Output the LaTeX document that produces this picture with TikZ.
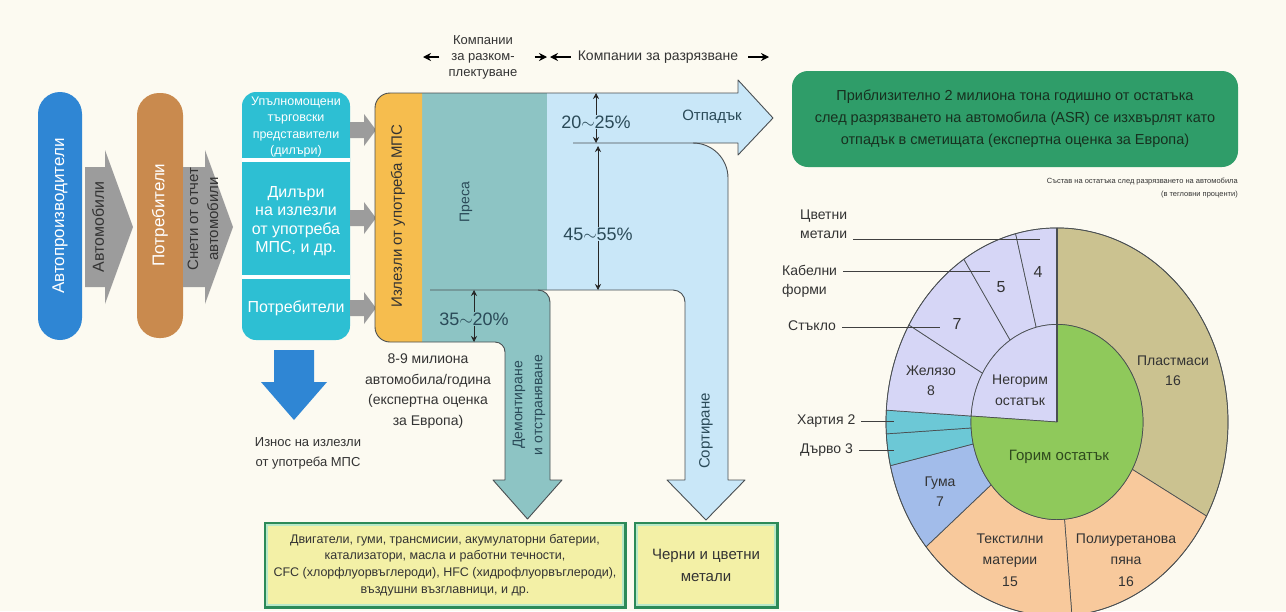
\documentclass[tikz,border=0pt]{standalone}
\usepackage{xcolor}
\usepackage{fontspec}
\setmainfont{Liberation Sans}
\usetikzlibrary{arrows.meta}

\definecolor{bgcream}{HTML}{FCFAF1}
\definecolor{makerblue}{HTML}{2F86D4}
\definecolor{userbrown}{HTML}{C98A4E}
\definecolor{flowgrey}{HTML}{9C9C9C}
\definecolor{dealercyan}{HTML}{2DBFD3}
\definecolor{elvamber}{HTML}{F6BD4E}
\definecolor{pressteal}{HTML}{8DC4C4}
\definecolor{shredblue}{HTML}{C9E7F8}
\definecolor{edgegrey}{HTML}{4A4F52}
\definecolor{pcttext}{HTML}{2A4A58}
\definecolor{inktext}{HTML}{333333}
\definecolor{asrgreen}{HTML}{2F9D69}
\definecolor{asrtext}{HTML}{17301F}
\definecolor{boxgreen}{HTML}{2C8A58}
\definecolor{boxmint}{HTML}{B8E8C8}
\definecolor{boxyellow}{HTML}{F3F0A6}
\definecolor{plastic}{HTML}{CBC290}
\definecolor{peach}{HTML}{F8C99C}
\definecolor{rubber}{HTML}{A2BCEA}
\definecolor{woodcyan}{HTML}{6CC8D6}
\definecolor{metallav}{HTML}{D6D6F6}
\definecolor{burngreen}{HTML}{8FC95B}
\definecolor{combtext}{HTML}{2F4A1E}

\begin{document}
\begin{tikzpicture}[x=1pt, y=-1pt,
  fs/.style 2 args={font=\fontsize{#1}{#2}\selectfont},
  lbl/.style={text=inktext, align=center, inner sep=0pt},
  vlbl/.style={lbl, rotate=90},
  rim/.style={draw=edgegrey, line width=0.9pt, line join=round},
  pctarrow/.style={draw=black!85, line width=0.7pt, -{Stealth[length=6pt, width=6pt]}},
  spanarrow/.style={draw=black, line width=1.1pt, -{Stealth[length=8pt, width=8pt]}},
  leader/.style={draw=black!75, line width=0.8pt},
  pct/.style={lbl, text=pcttext, fs={18}{20}},
  wedgeline/.style={draw=edgegrey, line width=0.7pt},
  itembox/.style={draw=boxgreen, line width=3pt, fill=boxyellow, minimum height=84pt, inner sep=0pt, align=center, text=inktext}]

  \useasboundingbox (0,0) rectangle (1286,611);
  \fill[bgcream] (0,0) rectangle (1286,611);

  % Makers, users and the grey flows
  \fill[makerblue, rounded corners=22pt] (38,92) rectangle (82,340);
  \node[vlbl, text=white, fs={17}{20}] (maker) at (60,216) {Автопроизводители};
  \fill[flowgrey] (85,167) -- (105,167) -- (105,150) -- (133,227) -- (105,304) -- (105,287) -- (85,287) -- cycle;
  \node[vlbl, fs={16}{19}] (cars) at (98,227) {Автомобили};
  \fill[userbrown, rounded corners=22pt] (137,93) rectangle (183,338);
  \node[vlbl, text=white, fs={17}{20}] (users) at (160,215) {Потребители};
  \fill[flowgrey] (183,167) -- (205,167) -- (205,150) -- (233,227) -- (205,304) -- (205,287) -- (183,287) -- cycle;
  \node[vlbl, fs={15}{20}] (dereg) at (203,219) {Снети от отчет\\автомобили};

  % Dealers box
  \fill[dealercyan, rounded corners=14pt] (242,92) rectangle (350,340);
  \draw[white, line width=4pt] (242,160) -- (350,160);
  \draw[white, line width=4pt] (242,277) -- (350,277);
  \node[lbl, text=white, fs={12.5}{16.5}] (authdealer) at (296,127) {Упълномощени\\търговски\\представители\\(дилъри)};
  \node[lbl, text=white, fs={16}{18.5}] (elvdealer) at (296,221) {Дилъри\\на излезли\\от употреба\\МПС, и др.};
  \node[lbl, text=white, fs={16}{18}] (lastusers) at (296,308) {Потребители};
  \foreach \y in {130,218,308}{
    \fill[flowgrey] (350,\y-8) -- (364,\y-8) -- (364,\y-16) -- (376,\y) -- (364,\y+16) -- (364,\y+8) -- (350,\y+8) -- cycle;
  }

  % Export
  \fill[makerblue] (274,350) -- (314,350) -- (314,382) -- (327,382) -- (294,420) -- (261,382) -- (274,382) -- cycle;
  \node[lbl, fs={13}{20}] (export) at (308,453) {Износ на излезли\\от употреба МПС};

  % Dismantling and shredding flows
  \fill[pressteal] (422,93) -- (547,93) -- (547,290) -- (538,290) arc[start angle=-90, end angle=0, radius=12]
    -- (550,480) -- (562,480) -- (527.5,519) -- (493,480) -- (505,480) -- (505,352)
    arc[start angle=0, end angle=-90, radius=10] -- (422,342) -- cycle;
  \fill[shredblue] (547,93) -- (738,93) -- (738,80) -- (773,118) -- (738,155) -- (738,143) -- (693,143)
    arc[start angle=-90, end angle=0, radius=35] -- (728,480) -- (745,480) -- (706,520) -- (667,480)
    -- (685,480) -- (685,302) arc[start angle=0, end angle=-90, radius=12] -- (547,290) -- cycle;
  \fill[elvamber] (422,93) -- (390,93) arc[start angle=-90, end angle=-180, radius=15] -- (375,327)
    arc[start angle=180, end angle=90, radius=15] -- (422,342) -- cycle;
  \draw[rim] (390,93) -- (738,93) -- (738,80) -- (773,118) -- (738,155) -- (738,143) -- (573,143);
  \draw[rim] (693,143) arc[start angle=-90, end angle=0, radius=35] -- (728,480) -- (745,480) -- (706,520)
    -- (667,480) -- (685,480) -- (685,302) arc[start angle=0, end angle=-90, radius=12] -- (430,290);
  \draw[rim] (538,290) arc[start angle=-90, end angle=0, radius=12] -- (550,480) -- (562,480) -- (527.5,519)
    -- (493,480) -- (505,480) -- (505,352) arc[start angle=0, end angle=-90, radius=10] -- (390,342)
    arc[start angle=90, end angle=180, radius=15] -- (375,108) arc[start angle=180, end angle=270, radius=15];

  \node[vlbl, fs={15}{18}] (elv) at (398,216) {Излезли от употреба МПС};
  \node[vlbl, text=pcttext, fs={14}{17}] (press) at (466,202) {Преса};
  \node[lbl, text=pcttext, fs={15}{18}] (waste) at (712,117) {Отпадък};
  \node[vlbl, text=pcttext, fs={14}{20}] (dismantle) at (529,405) {Демонтиране\\и отстраняване};
  \node[vlbl, text=pcttext, fs={15}{18}] (sorting) at (706,431) {Сортиране};
  \node[lbl, fs={14}{20.7}] (volume) at (428,391) {8-9 милиона\\автомобила/година\\(експертна оценка\\за Европа)};

  % Shares
  \node[pct] (waste-pct) at (596,122) {20$\sim$25\%};
  \node[pct] (sort-pct) at (598,234) {45$\sim$55\%};
  \node[pct] (dis-pct) at (474,319) {35$\sim$20\%};
  \coordinate (waste-top) at (596,93);
  \coordinate (waste-bot) at (596,143);
  \coordinate (sort-top) at (598,146);
  \coordinate (sort-bot) at (598,290);
  \coordinate (dis-top) at (474,290);
  \coordinate (dis-bot) at (474,342);
  \draw[pctarrow] (waste-pct.north) -- (waste-top);
  \draw[pctarrow] (waste-pct.south) -- (waste-bot);
  \draw[pctarrow] (sort-pct.north) -- (sort-top);
  \draw[pctarrow] (sort-pct.south) -- (sort-bot);
  \draw[pctarrow] (dis-pct.north) -- (dis-top);
  \draw[pctarrow] (dis-pct.south) -- (dis-bot);

  % Company spans
  \node[lbl, fs={13}{16}] (dismantlers) at (483,57) {Компании\\за разком-\\плектуване};
  \node[lbl, fs={14}{16}] (shredders) at (658,57) {Компании за разрязване};
  \coordinate (dis-left) at (423,57);
  \coordinate (dis-right) at (547,57);
  \coordinate (shr-left) at (550,57);
  \coordinate (shr-right) at (769,57);
  \draw[spanarrow, shorten <=9pt] (dismantlers.west) -- (dis-left);
  \draw[spanarrow, shorten <=17pt] (dismantlers.east) -- (dis-right);
  \draw[spanarrow, shorten <=7pt] (shredders.west) -- (shr-left);
  \draw[spanarrow, shorten <=10pt] (shredders.east) -- (shr-right);

  % Output boxes
  \node[itembox, minimum width=360pt, fs={12.5}{16.7}] (parts) at (445,565) {Двигатели, гуми, трансмисии, акумулаторни батерии,\\катализатори, масла и работни течности,\\CFC (хлорфлуорвъглероди), HFC (хидрофлуорвъглероди),\\въздушни възглавници, и др.};
  \node[itembox, minimum width=142pt, fs={15}{22}] (metals) at (706,565) {Черни и цветни\\метали};
  \foreach \b in {parts,metals}{
    \draw[boxmint, line width=2.5pt] ([shift={(3.5pt,-3.5pt)}]\b.north west) rectangle ([shift={(-3.5pt,3.5pt)}]\b.south east);
  }

  % ASR note
  \node[lbl, fill=asrgreen, rounded corners=16pt, minimum width=446pt, minimum height=96pt, text=asrtext, fs={14.5}{22}] (asr) at (1015,119) {Приблизително 2 милиона тона годишно от остатъка\\след разрязването на автомобила (ASR) се изхвърлят като\\отпадък в сметищата (експертна оценка за Европа)};
  \node[lbl, align=right, anchor=north east, fs={7.5}{13}] (compcap) at (1238,178) {Състав на остатъка след разрязването на автомобила\\(в тегловни проценти)};

  % Residue composition ring
  \begin{scope}[shift={(1057,422)}, yscale=-1.135]
    \foreach \a/\b/\c in {-29/90/plastic, -85/-29/peach, -140/-85/peach, -167/-140/rubber,
                          -176.5/-167/woodcyan, 176.5/183.5/woodcyan, 150/176.5/metallav,
                          123/150/metallav, 104/123/metallav, 90/104/metallav}{
      \filldraw[fill=\c, wedgeline] (\a:171) arc[start angle=\a, end angle=\b, radius=171]
        -- (\b:86) arc[start angle=\b, end angle=\a, radius=86] -- cycle;
    }
    \filldraw[fill=metallav, wedgeline] (0,0) -- (90:86) arc[start angle=90, end angle=176.5, radius=86] -- cycle;
    \filldraw[fill=burngreen, wedgeline] (0,0) -- (176.5:86) arc[start angle=176.5, end angle=450, radius=86] -- cycle;
    \draw[wedgeline] (0,0) circle[radius=171];
    \draw[edgegrey, line width=1.5pt] (0,0) -- (90:171);
  \end{scope}

  \node[lbl, fs={16}{18}] (nonferrous) at (1038,272) {4};
  \node[lbl, fs={16}{18}] (cables) at (1001,287) {5};
  \node[lbl, fs={16}{18}] (glass) at (957,324) {7};
  \node[lbl, fs={14}{20}] (iron) at (931,381) {Желязо\\8};
  \node[lbl, fs={14}{21}] (incomb) at (1020,390) {Негорим\\остатък};
  \node[lbl, fs={14}{20}] (plastics) at (1173,371) {Пластмаси\\16};
  \node[lbl, text=combtext, fs={15}{18}] (comb) at (1059,457) {Горим остатък};
  \node[lbl, fs={14}{20}] (rubber) at (940,492) {Гума\\7};
  \node[lbl, fs={14}{21.5}] (textile) at (1010,560) {Текстилни\\материи\\15};
  \node[lbl, fs={14}{21.5}] (foam) at (1126,560) {Полиуретанова\\пяна\\16};

  \node[lbl, align=left, anchor=west, fs={14}{19}] (l-nonferrous) at (800,224) {Цветни\\метали};
  \node[lbl, align=left, anchor=west, fs={14}{19}] (l-cables) at (782,281) {Кабелни\\форми};
  \node[lbl, anchor=west, fs={14}{18}] (l-glass) at (788,326) {Стъкло};
  \node[lbl, anchor=west, fs={14}{18}] (l-paper) at (797,421) {Хартия 2};
  \node[lbl, anchor=west, fs={14}{18}] (l-wood) at (800,450) {Дърво 3};
  \coordinate (p-nonferrous) at (1040,239);
  \coordinate (p-cables) at (990,271);
  \coordinate (p-glass) at (940,327);
  \coordinate (p-paper) at (894,421);
  \coordinate (p-wood) at (894,450);
  \foreach \n in {nonferrous,cables,glass,paper,wood}{
    \draw[leader, shorten <=6pt] (l-\n.east |- p-\n) -- (p-\n);
  }
\end{tikzpicture}
\end{document}
